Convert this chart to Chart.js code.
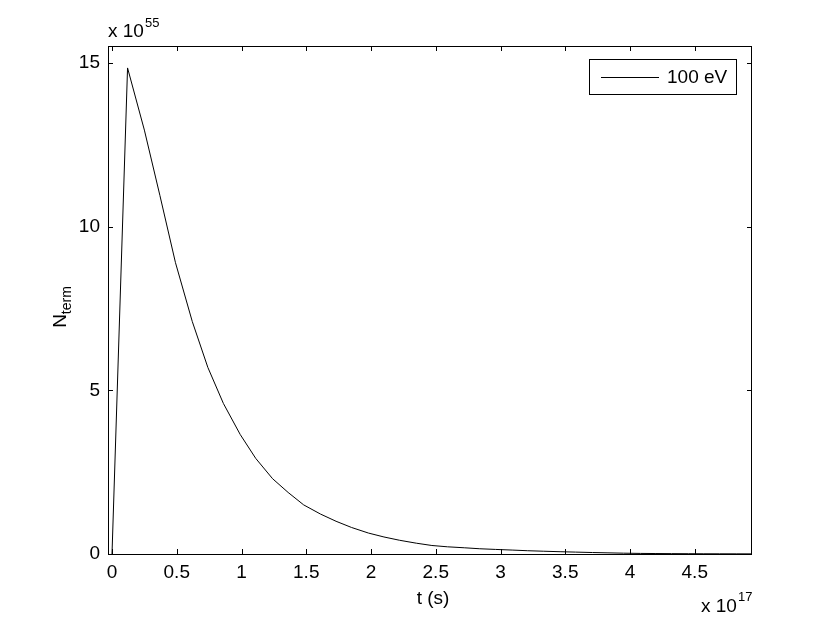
<!DOCTYPE html>
<html>
<head>
<meta charset="utf-8">
<script src="https://cdn.jsdelivr.net/npm/chart.js@4/dist/chart.umd.min.js"></script>
<style>
  html, body { margin: 0; padding: 0; background: #fff; }
  #wrap { width: 830px; height: 625px; position: relative; }
</style>
</head>
<body>
<div id="wrap"><canvas id="myChart" width="830" height="625"></canvas></div>
<script>
  // dados (t em 1e17 s, N em 1e55)
  var tempos = [0, 0.12, 0.25, 0.37, 0.49, 0.62, 0.74, 0.86, 0.99, 1.11, 1.24, 1.36, 1.48,
                1.61, 1.73, 1.85, 1.98, 2.10, 2.22, 2.35, 2.47, 2.59, 2.72, 2.84, 2.96,
                3.09, 3.21, 3.33, 3.46, 3.58, 3.71, 3.83, 3.95, 4.08, 4.20, 4.32, 4.45,
                4.57, 4.69, 4.82, 4.94];
  var nTerm = [0, 14.85, 12.95, 10.95, 8.9, 7.1, 5.7, 4.6, 3.65, 2.92, 2.3, 1.88, 1.5,
               1.22, 1.0, 0.81, 0.64, 0.52, 0.42, 0.33, 0.26, 0.22, 0.19, 0.16, 0.14,
               0.12, 0.10, 0.085, 0.07, 0.058, 0.045, 0.035, 0.025, 0.018, 0.014, 0.011, 0.009,
               0.007, 0.006, 0.005, 0.004];
  var serieNome = '100 eV';
  var xTicks = [0, 0.5, 1, 1.5, 2, 2.5, 3, 3.5, 4, 4.5];
  var yTicks = [0, 5, 10, 15];

  var fonte = '"Liberation Sans", Arial, sans-serif';
  var tamFonte = 19;

  var pontos = tempos.map(function (t, i) { return { x: t, y: nTerm[i] }; });

  // caixa, ticks para dentro, legenda e rótulos estilo MATLAB
  var estiloMatlab = {
    id: 'estiloMatlab',
    afterDraw: function (chart) {
      var c = chart.ctx, a = chart.chartArea;
      var sx = chart.scales.x, sy = chart.scales.y;
      c.save();
      c.strokeStyle = '#000';
      c.lineWidth = 1;
      c.strokeRect(a.left + 0.5, a.top + 0.5, a.right - a.left - 1, a.bottom - a.top);
      c.beginPath();
      xTicks.forEach(function (v) {
        var px = Math.round(sx.getPixelForValue(v)) + 0.5;
        c.moveTo(px, a.bottom); c.lineTo(px, a.bottom - 5);
        c.moveTo(px, a.top); c.lineTo(px, a.top + 5);
      });
      yTicks.forEach(function (v) {
        var py = Math.round(sy.getPixelForValue(v)) + 0.5;
        c.moveTo(a.left, py); c.lineTo(a.left + 5, py);
        c.moveTo(a.right, py); c.lineTo(a.right - 5, py);
      });
      c.stroke();

      // legenda
      var lx = 589, ly = 59, lw = 147, lh = 35;
      c.fillStyle = '#fff';
      c.fillRect(lx, ly, lw, lh);
      c.strokeRect(lx + 0.5, ly + 0.5, lw, lh);
      c.beginPath();
      c.moveTo(601, ly + 18.5); c.lineTo(659, ly + 18.5);
      c.stroke();
      c.fillStyle = '#000';
      c.font = tamFonte + 'px ' + fonte;
      c.textBaseline = 'middle';
      c.textAlign = 'left';
      c.fillText(chart.data.datasets[0].label, 667, ly + 19);

      // expoentes
      c.textBaseline = 'alphabetic';
      c.fillText('x 10', a.left, 37);
      var w = c.measureText('x 10').width;
      c.font = (tamFonte - 6) + 'px ' + fonte;
      c.fillText('55', a.left + w + 1, 27);

      c.font = tamFonte + 'px ' + fonte;
      c.fillText('x 10', 701, 612);
      w = c.measureText('x 10').width;
      c.font = (tamFonte - 6) + 'px ' + fonte;
      c.fillText('17', 701 + w + 1, 601);

      // títulos dos eixos
      c.font = tamFonte + 'px ' + fonte;
      c.textAlign = 'center';
      c.fillText('t (s)', 433, 604);

      c.translate(66, 307);
      c.rotate(-Math.PI / 2);
      c.textAlign = 'left';
      var wN = c.measureText('N').width;
      c.font = (tamFonte - 5) + 'px ' + fonte;
      var wT = c.measureText('term').width;
      var x0 = -(wN + wT) / 2;
      c.font = tamFonte + 'px ' + fonte;
      c.fillText('N', x0, 0);
      c.font = (tamFonte - 5) + 'px ' + fonte;
      c.fillText('term', x0 + wN, 5);
      c.restore();
    }
  };

  var ctx = document.getElementById('myChart').getContext('2d');
  var myChart = new Chart(ctx, {
    type: 'line',
    data: {
      datasets: [{
        label: serieNome,
        data: pontos,
        borderColor: '#000',
        borderWidth: 1,
        pointRadius: 0,
        tension: 0,
        fill: false
      }]
    },
    options: {
      responsive: false,
      animation: false,
      layout: { padding: { left: 0, top: 46, right: 78, bottom: 0 } },
      plugins: { legend: { display: false }, tooltip: { enabled: false } },
      scales: {
        x: {
          type: 'linear',
          min: -0.031,
          max: 4.942,
          afterBuildTicks: function (s) { s.ticks = xTicks.map(function (v) { return { value: v }; }); },
          afterFit: function (s) { s.height = 71; },
          grid: { display: false, drawTicks: false },
          border: { display: false },
          ticks: { color: '#000', font: { family: fonte, size: tamFonte }, padding: 7, maxRotation: 0,
                   callback: function (v) { return String(v); } }
        },
        y: {
          type: 'linear',
          min: 0,
          max: 15.52,
          afterBuildTicks: function (s) { s.ticks = yTicks.map(function (v) { return { value: v }; }); },
          afterFit: function (s) { s.width = 108; },
          grid: { display: false, drawTicks: false },
          border: { display: false },
          ticks: { color: '#000', font: { family: fonte, size: tamFonte }, padding: 8,
                   callback: function (v) { return String(v); } }
        }
      }
    },
    plugins: [estiloMatlab]
  });
</script>
</body>
</html>
